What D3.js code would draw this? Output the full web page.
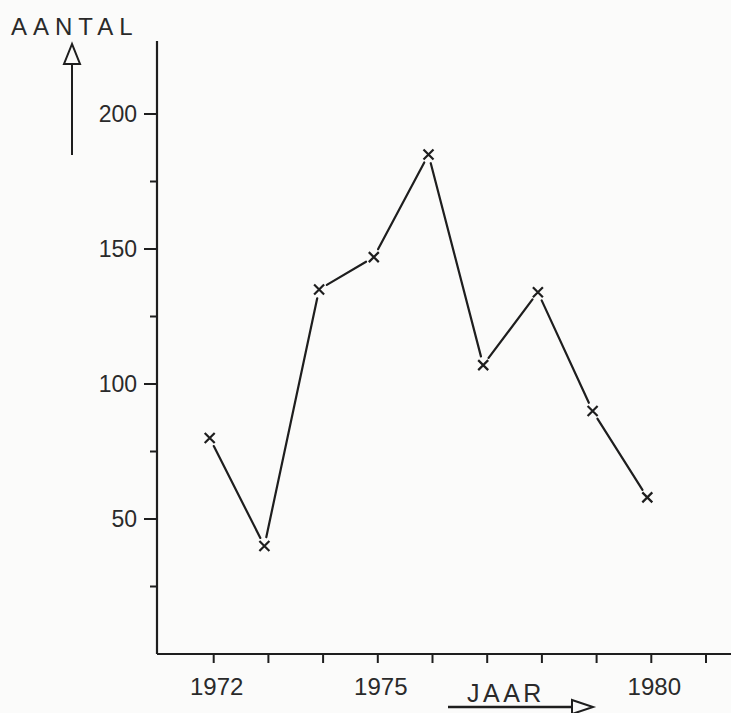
<!DOCTYPE html>
<html>
<head>
<meta charset="utf-8">
<script src="https://cdn.jsdelivr.net/npm/d3@7"></script>
<style>
  body { margin: 0; background: #fbfbfa; }
  svg { display: block; }
  text { font-family: "Liberation Sans", Arial, sans-serif; fill: #2a2a2a; }
</style>
</head>
<body>
<svg></svg>
<script>
// data
const years = [1972, 1973, 1974, 1975, 1976, 1977, 1978, 1979, 1980];
const counts = [80, 40, 135, 147, 185, 107, 134, 90, 58];
const yearTicks = [1972, 1973, 1974, 1975, 1976, 1977, 1978, 1979, 1980, 1981];
const yearLabels = [1972, 1975, 1980];
const majorTicks = [50, 100, 150, 200];
const minorTicks = [25, 75, 125, 175];

const canvasWidth = 731;
const canvasHeight = 713;
const ink = "#1e1e1e";

var svg = d3.select("svg")
    .attr("width", canvasWidth)
    .attr("height", canvasHeight);

var xScaler = d3.scaleLinear().domain([1971, 1981]).range([159, 706]);
var yScaler = d3.scaleLinear().domain([0, 200]).range([654, 114]);

// axes lines
svg.append("line")
    .attr("x1", xScaler(1971) - 2).attr("x2", canvasWidth)
    .attr("y1", yScaler(0)).attr("y2", yScaler(0))
    .style("stroke", ink).style("stroke-width", 2.2);
svg.append("line")
    .attr("x1", xScaler(1971) - 2).attr("x2", xScaler(1971) - 2)
    .attr("y1", yScaler(0)).attr("y2", yScaler(227))
    .style("stroke", ink).style("stroke-width", 2.2);

// y ticks
var yX = svg.append("g");
yX.selectAll("line.major").data(majorTicks).enter().append("line")
    .attr("x1", xScaler(1971) - 15).attr("x2", xScaler(1971) - 2)
    .attr("y1", function(d){ return yScaler(d); })
    .attr("y2", function(d){ return yScaler(d); })
    .style("stroke", ink).style("stroke-width", 2);
yX.selectAll("line.minor").data(minorTicks).enter().append("line")
    .attr("x1", xScaler(1971) - 9).attr("x2", xScaler(1971) - 2)
    .attr("y1", function(d){ return yScaler(d); })
    .attr("y2", function(d){ return yScaler(d); })
    .style("stroke", ink).style("stroke-width", 2);
yX.selectAll("text").data(majorTicks).enter().append("text")
    .text(function(d){ return d; })
    .attr("x", xScaler(1971) - 22)
    .attr("y", function(d){ return yScaler(d) + 8; })
    .attr("text-anchor", "end")
    .style("font-size", "23px");

// x ticks
var xX = svg.append("g");
xX.selectAll("line").data(yearTicks).enter().append("line")
    .attr("x1", function(d){ return xScaler(d); })
    .attr("x2", function(d){ return xScaler(d); })
    .attr("y1", yScaler(0))
    .attr("y2", yScaler(0) + 9)
    .style("stroke", ink).style("stroke-width", 2);
xX.selectAll("text").data(yearLabels).enter().append("text")
    .text(function(d){ return d; })
    .attr("x", function(d){ return xScaler(d) + 3; })
    .attr("y", 695)
    .attr("text-anchor", "middle")
    .style("font-size", "24px");

// axis titles with open arrows
svg.append("text")
    .text("AANTAL")
    .attr("x", 11).attr("y", 35)
    .style("font-size", "24px")
    .style("letter-spacing", "6px");
svg.append("line")
    .attr("x1", 72).attr("x2", 72).attr("y1", 65).attr("y2", 155)
    .style("stroke", ink).style("stroke-width", 2);
svg.append("path")
    .attr("d", "M72,44 L64,64 L80,64 Z")
    .style("fill", "none").style("stroke", ink).style("stroke-width", 2);

svg.append("text")
    .text("JAAR")
    .attr("x", 467).attr("y", 702)
    .style("font-size", "25px")
    .style("letter-spacing", "3.5px");
svg.append("line")
    .attr("x1", 448).attr("x2", 572).attr("y1", 707).attr("y2", 707)
    .style("stroke", ink).style("stroke-width", 2.5);
svg.append("path")
    .attr("d", "M572,700 L593,707 L572,714 Z")
    .style("fill", "none").style("stroke", ink).style("stroke-width", 2);

// line segments, drawn short of the markers like the original
var pts = years.map(function(d, i){ return [xScaler(d) - 4, yScaler(counts[i])]; });
var gap = 9;
var segs = d3.pairs(pts);
function ends(d){
    var dx = d[1][0]-d[0][0], dy = d[1][1]-d[0][1], l = Math.hypot(dx, dy);
    return [d[0][0] + dx/l*gap, d[0][1] + dy/l*gap, d[1][0] - dx/l*gap, d[1][1] - dy/l*gap];
}
svg.append("g").selectAll("line").data(segs).enter().append("line")
    .attr("x1", function(d){ return ends(d)[0]; })
    .attr("y1", function(d){ return ends(d)[1]; })
    .attr("x2", function(d){ return ends(d)[2]; })
    .attr("y2", function(d){ return ends(d)[3]; })
    .style("stroke", ink).style("stroke-width", 2.2)
    .style("stroke-linecap", "round");

// x markers
svg.append("g").selectAll("path").data(pts).enter().append("path")
    .attr("d", function(d){
        var s = 5;
        return "M" + (d[0]-s) + "," + (d[1]-s) + "L" + (d[0]+s) + "," + (d[1]+s) +
               "M" + (d[0]-s) + "," + (d[1]+s) + "L" + (d[0]+s) + "," + (d[1]-s);
    })
    .style("stroke", ink).style("stroke-width", 2.2);
</script>
</body>
</html>
